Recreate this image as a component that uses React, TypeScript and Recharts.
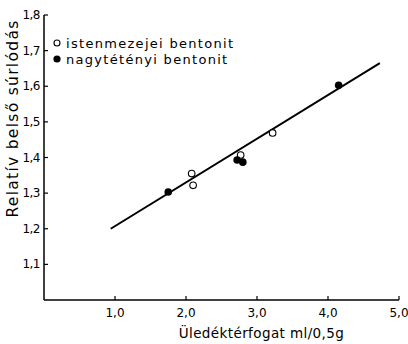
import React from "react";
import {
  ScatterChart,
  Scatter,
  XAxis,
  YAxis,
  ReferenceLine,
} from "recharts";

// istenmezejei bentonit (open circles)
const istenmezejei = [
  { x: 2.08, y: 1.355 },
  { x: 2.1, y: 1.322 },
  { x: 2.77, y: 1.407 },
  { x: 3.22, y: 1.469 },
];

// nagytétényi bentonit (filled circles)
const nagytetenyi = [
  { x: 1.75, y: 1.303 },
  { x: 2.72, y: 1.393 },
  { x: 2.8, y: 1.387 },
  { x: 4.15, y: 1.603 },
];

// fitted line end points
const fitLine = [
  { x: 0.94, y: 1.2 },
  { x: 4.73, y: 1.665 },
];

const xTicks = [1, 2, 3, 4, 5];
const yTicks = [1.1, 1.2, 1.3, 1.4, 1.5, 1.6, 1.7, 1.8];

const FONT = "'DejaVu Sans', sans-serif";
const fmt = (v: number) => v.toFixed(1).replace(".", ",");

const XTick = (props: any) => {
  const { x, y, payload } = props;
  // axis line sits 8px above the label anchor (tickSize 6 + tickMargin 2)
  const ay = y - 8;
  return (
    <g>
      <line x1={x} y1={ay} x2={x} y2={ay - 4} stroke="#000" strokeWidth={1.2} />
      <text x={x} y={ay + 17} textAnchor="middle" fontSize={12} fontFamily={FONT} fill="#000">
        {fmt(payload.value)}
      </text>
    </g>
  );
};

const YTick = (props: any) => {
  const { x, y, payload } = props;
  const ax = x + 8;
  return (
    <g>
      <line x1={ax} y1={y} x2={ax + 4} y2={y} stroke="#000" strokeWidth={1.2} />
      <text x={ax - 4} y={y + 4} textAnchor="end" fontSize={12} letterSpacing={-0.5} fontFamily={FONT} fill="#000">
        {fmt(payload.value)}
      </text>
    </g>
  );
};

const OpenDot = (props: any) => (
  <circle cx={props.cx} cy={props.cy} r={3.3} fill="#fff" stroke="#000" strokeWidth={1.1} />
);
const FilledDot = (props: any) => (
  <circle cx={props.cx} cy={props.cy} r={3.8} fill="#000" />
);

const legendItems = [
  { name: "istenmezejei bentonit", filled: false },
  { name: "nagytétényi bentonit", filled: true },
];

export default function App() {
  return (
    <div style={{ position: "absolute", left: 0, top: 0, width: 408, height: 344, background: "#fff" }}>
      <ScatterChart
        width={408}
        height={344}
        margin={{ top: 15, right: 9, left: 0, bottom: 0 }}
      >
        <XAxis
          type="number"
          dataKey="x"
          domain={[0, 5]}
          ticks={xTicks}
          tick={<XTick />}
          tickLine={false}
          tickSize={6}
          tickMargin={2}
          height={44}
          axisLine={{ stroke: "#000", strokeWidth: 1.5 }}
          label={{
            value: "Üledéktérfogat ml/0,5g",
            position: "insideBottom",
            offset: 6,
            dx: 40,
            style: { fontFamily: FONT, fontSize: 13.5, letterSpacing: 0.4, fill: "#000" },
          }}
        />
        <YAxis
          type="number"
          dataKey="y"
          domain={[1.0, 1.8]}
          ticks={yTicks}
          tick={<YTick />}
          tickLine={false}
          tickSize={6}
          tickMargin={2}
          width={44}
          axisLine={{ stroke: "#000", strokeWidth: 1.5 }}
          label={{
            value: "Relatív belső súrlódás",
            angle: -90,
            position: "insideLeft",
            offset: 12,
            dy: -39,
            style: { textAnchor: "middle", fontFamily: FONT, fontSize: 15.5, letterSpacing: 1.3, fill: "#000" },
          }}
        />
        <ReferenceLine
          segment={fitLine}
          stroke="#000"
          strokeWidth={2}
          ifOverflow="visible"
        />
        <Scatter
          name="istenmezejei bentonit"
          data={istenmezejei}
          shape={<OpenDot />}
          isAnimationActive={false}
        />
        <Scatter
          name="nagytétényi bentonit"
          data={nagytetenyi}
          shape={<FilledDot />}
          isAnimationActive={false}
        />
      </ScatterChart>
      <div
        style={{
          position: "absolute",
          left: 52,
          top: 36,
          fontFamily: FONT,
          fontSize: 13,
          letterSpacing: 1.3,
          lineHeight: "16px",
          color: "#000",
        }}
      >
        {legendItems.map((item) => (
          <div key={item.name} style={{ whiteSpace: "nowrap" }}>
            <svg width={10} height={10} style={{ marginRight: 4 }}>
              {item.filled ? (
                <circle cx={5} cy={5} r={3.6} fill="#000" />
              ) : (
                <circle cx={5} cy={5} r={3} fill="#fff" stroke="#000" strokeWidth={1.1} />
              )}
            </svg>
            {item.name}
          </div>
        ))}
      </div>
    </div>
  );
}
